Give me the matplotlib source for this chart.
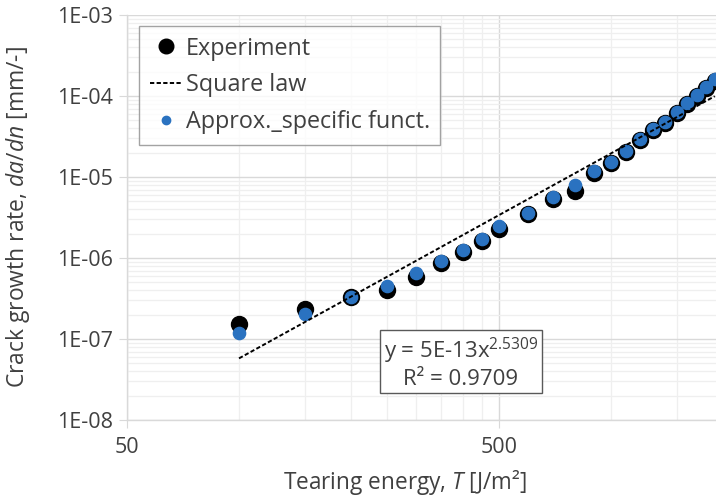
import numpy as np
import matplotlib
matplotlib.use("Agg")
import matplotlib.pyplot as plt
from matplotlib.lines import Line2D
from matplotlib.ticker import FixedLocator, FuncFormatter, NullFormatter

# Tearing energy T [J/m^2]
tearing_energy = [100, 150, 200, 250, 300, 350, 400, 450, 500, 600, 700, 800,
                  900, 1000, 1100, 1200, 1300, 1400, 1500, 1600, 1700, 1800, 1900]
# Measured crack growth rate da/dn [mm/-]
experiment = [1.53e-7, 2.34e-7, 3.3e-7, 4.0e-7, 5.8e-7, 8.7e-7, 1.2e-6, 1.6e-6,
              2.3e-6, 3.5e-6, 5.3e-6, 6.7e-6, 1.13e-5, 1.5e-5, 2.05e-5, 2.9e-5,
              3.8e-5, 4.6e-5, 6.1e-5, 7.9e-5, 1.0e-4, 1.25e-4, 1.55e-4]
# Approximation with the specific function
approx_specific = [1.2e-7, 2.05e-7, 3.3e-7, 4.5e-7, 6.5e-7, 9.3e-7, 1.27e-6, 1.7e-6,
                   2.45e-6, 3.6e-6, 5.6e-6, 7.9e-6, 1.18e-5, 1.55e-5, 2.1e-5, 2.95e-5,
                   3.9e-5, 4.8e-5, 6.3e-5, 8.1e-5, 1.03e-4, 1.28e-4, 1.6e-4]
# Power-law fit y = a * x^b
fit_coeff = 5e-13
fit_exponent = 2.5309
fit_r2 = 0.9709

FONT = "Open Sans"
TEXT = "#404040"
BLUE = "#2a72c0"
GRID_MAJOR = "#d9d9d9"
GRID_MINOR = "#efefef"

plt.rcParams["font.family"] = [FONT, "DejaVu Sans"]
plt.rcParams["mathtext.fontset"] = "custom"
plt.rcParams["mathtext.rm"] = FONT
plt.rcParams["mathtext.it"] = FONT + ":italic"

W, H = 716, 498
fig = plt.figure(figsize=(W / 100, H / 100), dpi=100)
ax = fig.add_axes([127 / W, 1 - 420 / H, (W - 127) / W, 405 / H])

x = np.array(tearing_energy, dtype=float)
ax.plot(x, experiment, "o", color="black", markersize=11.5, zorder=3, clip_on=False)
ax.plot(x, approx_specific, "o", color=BLUE, markersize=8.8, zorder=4, clip_on=False)
ax.plot(x, fit_coeff * x ** fit_exponent, color="black", lw=1.4,
        linestyle=(0, (2.2, 1.2)), zorder=5)

ax.set_xscale("log")
ax.set_yscale("log")
ax.set_xlim(50, 1915)
ax.set_ylim(1e-8, 1e-3)

# Excel-style log axes: majors at 50, 500, 5000; minors at multiples of the base
ax.xaxis.set_major_locator(FixedLocator([50, 500, 5000]))
ax.xaxis.set_minor_locator(FixedLocator([50 * k for k in range(2, 10)] +
                                        [500 * k for k in range(2, 10)]))
ax.xaxis.set_major_formatter(FuncFormatter(lambda v, p: f"{v:g}"))
ax.xaxis.set_minor_formatter(NullFormatter())
ax.yaxis.set_major_locator(FixedLocator([10.0 ** e for e in range(-8, -2)]))
ax.yaxis.set_minor_locator(FixedLocator([k * 10.0 ** e for e in range(-8, -3)
                                         for k in range(2, 10)]))
ax.yaxis.set_major_formatter(FuncFormatter(lambda v, p: f"1E-{-int(round(np.log10(v))):02d}"))
ax.yaxis.set_minor_formatter(NullFormatter())

ax.grid(which="major", color=GRID_MAJOR, lw=1.0)
ax.grid(which="minor", color=GRID_MINOR, lw=0.9)
ax.set_axisbelow(True)
for s in ("top", "right"):
    ax.spines[s].set_visible(False)
for s in ("left", "bottom"):
    ax.spines[s].set_color(GRID_MAJOR)
    ax.spines[s].set_linewidth(1.0)
ax.tick_params(which="major", length=6, color=GRID_MAJOR, labelcolor=TEXT,
               labelsize=15.5)
ax.tick_params(axis="x", which="major", pad=6)
ax.tick_params(axis="y", which="major", pad=4)
ax.tick_params(which="minor", length=0)

fig.text(18 / W, 1 - 217 / H, r"Crack growth rate, $\mathit{da/dn}$ [mm/-]",
         rotation=90, ha="center", va="center", fontsize=16.5, color=TEXT)
fig.text(405 / W, 1 - 482 / H, r"Tearing energy, $\mathit{T}$ [J/m²]",
         ha="center", va="center", fontsize=16.3, color=TEXT)

handles = [
    Line2D([], [], marker="o", ls="none", color="black", markersize=10.5),
    Line2D([], [], color="black", lw=1.4, linestyle=(0, (2.2, 1.2))),
    Line2D([], [], marker="o", ls="none", color=BLUE, markersize=6),
]
leg = ax.legend(handles, ["Experiment", "Square law", "Approx._specific funct."],
                loc="upper left", bbox_to_anchor=((139 - 127) / 589, (420 - 26) / 405),
                borderaxespad=0, fontsize=16.8, labelcolor=TEXT, frameon=True,
                fancybox=False, handlelength=1.4, handletextpad=0.15,
                labelspacing=0.55, borderpad=0.45)
leg.get_frame().set_edgecolor("#8c8c8c")
leg.get_frame().set_linewidth(1.0)

ax.text((461 - 127) / 589, (420 - 363) / 405,
        f"y = 5E-13x$^{{{fit_exponent}}}$\nR² = {fit_r2}",
        transform=ax.transAxes, ha="center", va="center", fontsize=16,
        color=TEXT, linespacing=1.15, multialignment="center", zorder=6,
        bbox=dict(boxstyle="square,pad=0.15", fc="white", ec="#595959", lw=1.0))

fig.savefig("out.png", dpi=100)
